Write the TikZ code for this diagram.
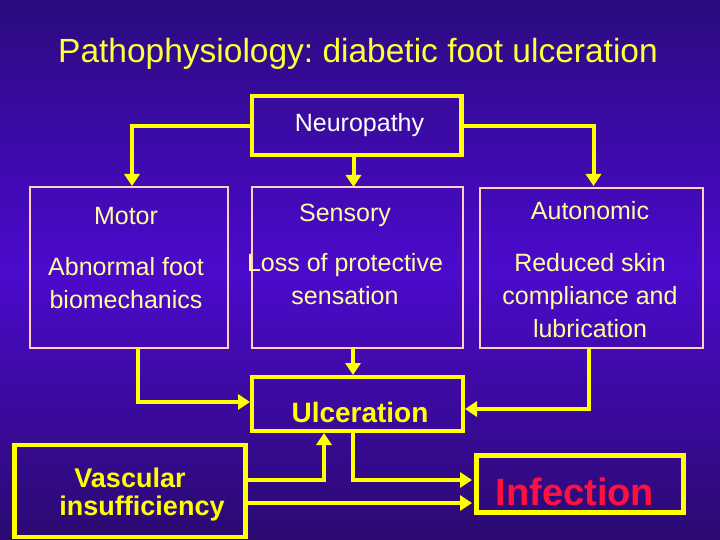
\documentclass[tikz,border=0pt]{standalone}
\usepackage{fontspec}
\setmainfont{Liberation Sans}
\usetikzlibrary{arrows.meta}
\definecolor{bgtop}{HTML}{2B0B80}
\definecolor{bgmid}{HTML}{4C0ACC}
\definecolor{bgbot}{HTML}{2A0A70}
\definecolor{ylw}{HTML}{FFFF00}
\definecolor{titleylw}{HTML}{FFFF3A}
\definecolor{paleylw}{HTML}{FFFFA0}
\definecolor{paleedge}{HTML}{FFCFC0}
\definecolor{infred}{HTML}{FF1040}
\tikzset{
  thickbox/.style={draw=ylw,line width=4.5pt},
  thinbox/.style={draw=paleedge,line width=1.3pt},
  conn/.style={draw=ylw,line width=4pt},
  arr/.style={conn,-{Triangle[width=15pt,length=12pt]}},
  lbl/.style={text=paleylw,font=\fontsize{25}{30}\selectfont,anchor=base,inner sep=0pt},
  bold/.style={text=ylw,font=\bfseries\fontsize{27}{32}\selectfont,anchor=base,inner sep=0pt},
}
\frenchspacing
\begin{document}
\begin{tikzpicture}[x=1pt,y=-1pt]
\useasboundingbox (0,0) rectangle (720,540);
\shade[top color=bgtop,bottom color=bgbot,middle color=bgmid] (0,0) rectangle (720,540);

\node[anchor=base,inner sep=0pt,text=titleylw,font=\fontsize{33.5}{40}\selectfont] (title) at (358,63) {Pathophysiology: diabetic foot ulceration};

% neuropathy
\draw[thickbox] (252,96) rectangle (461.5,155);
\coordinate (neuL) at (252,126.5);
\coordinate (neuR) at (461.5,126.5);
\coordinate (neuB) at (353.5,155);
\node[anchor=base,inner sep=0pt,text=white,font=\fontsize{25}{30}\selectfont] (neu) at (359.5,132) {Neuropathy};

% three branches
\draw[thinbox] (30,187) rectangle (228,348);
\draw[thinbox] (252,187) rectangle (463,348);
\draw[thinbox] (480,188) rectangle (703,348);
\coordinate (motT) at (132,186);
\coordinate (senT) at (353.5,187);
\coordinate (autT) at (593.5,186);
\coordinate (motB) at (138,348);
\coordinate (senB) at (353,348);
\coordinate (autB) at (589,348);

\node[lbl] (motor) at (126,225) {Motor};
\node[lbl] (abn1) at (126,275) {Abnormal foot};
\node[lbl] (abn2) at (126,308) {biomechanics};
\node[lbl] (sens) at (345,222) {Sensory};
\node[lbl] (loss1) at (345,271) {Loss of protective};
\node[lbl] (loss2) at (345,304) {sensation};
\node[lbl] (auto) at (590,220) {Autonomic};
\node[lbl] (red1) at (590,271) {Reduced skin};
\node[lbl] (red2) at (590,304) {compliance and};
\node[lbl] (red3) at (590,337) {lubrication};

% ulceration
\draw[thickbox] (252,377) rectangle (463,431);
\node[bold,font=\bfseries\fontsize{28}{32}\selectfont] (ulc) at (360,422) {Ulceration};
\coordinate (ulcL) at (250,402);
\coordinate (ulcR) at (465,409);
\coordinate (ulcT) at (353,375);
\coordinate (ulcB) at (324,433);
\coordinate (ulcBo) at (353,431);

% vascular
\draw[thickbox] (14.5,445) rectangle (245.5,537);
\node[bold] (vas1) at (130,487) {Vascular};
\node[bold] (vas2) at (142,515) {insufficiency};
\coordinate (vasR1) at (245.5,480);
\coordinate (vasR2) at (245.5,503);

% infection
\draw[thickbox,line width=5pt] (476,455.5) rectangle (683.5,512.5);
\node[anchor=base,inner sep=0pt,text=infred,font=\bfseries\fontsize{38}{44}\selectfont] (inf) at (575,505) {Infection};
\coordinate (infL1) at (472,480);
\coordinate (infL2) at (472,503);

% connectors
\draw[arr] (neuL) -| (motT);
\draw[arr] (neuR) -| (autT);
\draw[arr] (neuB) -- (senT);
\draw[arr] (motB) |- (ulcL);
\draw[arr] (senB) -- (ulcT);
\draw[arr] (autB) |- (ulcR);
\draw[arr] (vasR1) -| (ulcB);
\draw[arr] (ulcBo) |- (infL1);
\draw[arr] (vasR2) -- (infL2);
\end{tikzpicture}
\end{document}
